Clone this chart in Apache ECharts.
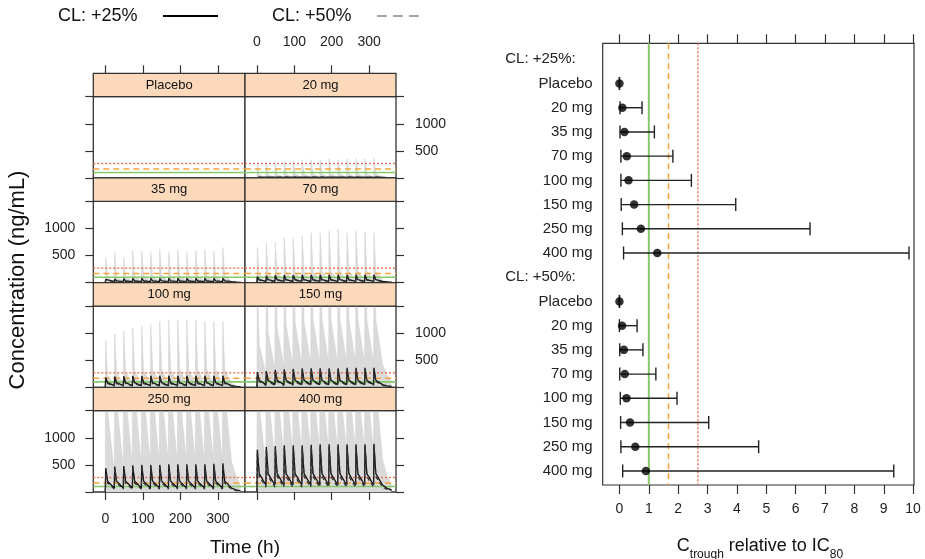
<!DOCTYPE html>
<html><head><meta charset="utf-8">
<script src="https://cdn.jsdelivr.net/npm/echarts@6/dist/echarts.min.js"></script>
<style>html,body{margin:0;padding:0;background:#fff}#c{width:925px;height:559px}</style>
</head><body><div id="c"></div>
<script>
// ---------------- DATA ----------------
const panelNames = ['Placebo','20 mg','35 mg','70 mg','100 mg','150 mg','250 mg','400 mg'];
const doseTimes = [0,24,48,72,96,120,144,168,192,216,240,264,288,312]; // h
const sampleOffsets = [1, 6, 24];   // h after each dose: peak, mid, trough
const tailTimes = [348, 360];       // h, after last trough
const timeTicks = [0,100,200,300];
const concTicks = [0,500,1000,1500];
const concLabels = [500,1000];
const refLevels = [100, 167, 267];  // ng/mL (IC80 multiples)

// gray prediction band (upper edge), ng/mL, per panel, per dose
const bandPeak = [
  [],
  [250,280,300,310,320,330,340,340,350,340,350,360,350,360],
  [470,560,470,590,590,560,620,560,620,560,590,620,590,650],
  [650,740,740,830,830,860,920,920,950,990,920,950,940,920],
  [860,980,1040,1100,1130,1160,1220,1250,1250,1250,1250,1220,1220,1220],
  [1900,2300,2500,2600,2700,2700,2800,2800,2800,2800,2800,2800,2800,2800],
  [3200,3600,3800,3900,4000,4000,4000,4000,4000,4000,4000,4000,4000,4000],
  [4800,5400,5600,5800,5800,5800,5800,5800,5800,5800,5800,5800,5800,5800]
];
const bandMid = [
  [],
  [55,60,65,65,70,70,70,70,75,70,75,75,75,75],
  [100,115,110,125,125,120,130,120,130,120,125,130,125,135],
  [150,175,180,195,195,200,210,210,215,220,210,215,215,210],
  [230,270,290,305,315,320,335,340,340,340,340,335,335,335],
  [800,1000,1100,1150,1200,1200,1250,1250,1250,1250,1250,1250,1250,1250],
  [1500,1700,1800,1850,1850,1850,1850,1850,1850,1850,1850,1850,1850,1850],
  [1600,1800,1900,1950,1950,1950,1950,1950,1950,1950,1950,1950,1950,1950]
];
const bandTrough = [
  [],
  [12,15,15,16,16,16,16,16,16,16,16,16,16,14],
  [20,25,27,28,28,28,28,28,28,28,28,28,28,25],
  [30,38,42,44,45,45,45,45,45,45,45,45,45,40],
  [45,60,68,72,74,75,75,75,75,75,75,75,75,70],
  [250,330,370,400,420,430,440,440,440,440,440,440,440,420],
  [350,430,470,490,510,520,530,530,530,530,530,530,530,560],
  [450,600,680,720,740,760,760,760,760,760,760,760,760,600]
];
const bandTail = [[],[8,4],[14,7],[22,10],[35,15],[230,110],[300,120],[300,140]];

// median profiles, CL +25% (solid)
const medPeak25 = [
  [],
  [30,35,38,40,40,40,40,40,40,40,40,40,40,40],
  [60,70,75,78,80,80,80,80,80,80,80,80,80,80],
  [110,125,135,140,140,145,145,145,145,145,145,145,145,145],
  [180,200,205,210,210,215,215,215,215,215,215,215,215,215],
  [280,300,320,330,340,350,350,350,350,350,360,360,360,360],
  [440,470,480,490,500,500,500,510,510,510,510,510,520,530],
  [780,830,850,860,860,860,870,880,880,880,880,880,880,890]
];
const medMid25 = [0,16,32,55,85,130,200,340];
const medTrough25 = [0,10,17,25,31,50,73,129];
const medTail25 = [[],[5,3],[9,5],[13,8],[16,10],[26,15],[38,22],[68,40]];

// median profiles, CL +50% (dashed)
const medPeak50 = [
  [],
  [27,31,34,36,36,36,36,36,36,36,36,36,36,36],
  [55,63,68,70,72,72,72,72,72,72,72,72,72,72],
  [100,112,120,125,125,128,128,128,128,128,128,128,128,128],
  [165,182,188,192,192,195,195,195,195,195,195,195,195,195],
  [260,280,295,305,312,320,320,320,320,320,328,328,328,328],
  [420,445,455,462,470,470,470,478,478,478,478,478,486,495],
  [750,800,815,825,825,825,835,845,845,845,845,845,845,855]
];
const medMid50 = [0,13,26,45,70,108,165,285];
const medTrough50 = [0,9,15,18,24,36,54,90];
const medTail50 = [[],[4,2],[7,4],[9,5],[12,7],[18,10],[27,15],[45,25]];

// forest plot: Ctrough relative to IC80
const groupLabels = ['CL: +25%:','CL: +50%:'];
const doseLabels = ['Placebo','20 mg','35 mg','70 mg','100 mg','150 mg','250 mg','400 mg'];
const lo25  = [0,0.02,0.02,0.05,0.05,0.06,0.10,0.14];
const med25 = [0,0.10,0.17,0.25,0.31,0.50,0.73,1.29];
const hi25  = [0,0.77,1.19,1.82,2.45,3.96,6.49,9.86];
const lo50  = [0,0.00,0.01,0.01,0.03,0.04,0.05,0.11];
const med50 = [0,0.09,0.15,0.18,0.24,0.36,0.54,0.90];
const hi50  = [0,0.60,0.80,1.24,1.96,3.04,4.74,9.34];
const refRatios = [1, 1.67, 2.67];
const ratioTicks = [0,1,2,3,4,5,6,7,8,9,10];

// ---------------- LAYOUT / STYLE ----------------
const FONT = "'Liberation Sans', Arial, Helvetica, sans-serif";
const INK = '#222';
const FRAME = '#333';
const colX = [93.3, 245];
const colW = [151.7, 151];
const ROW0 = 73.3, ROWP = 104.67, STRIP = 23.4, PLOT = 81.27;
const X_MIN = -32, X_MAX = 372;
const refColors = ['#86c96b','#f5a43e','#ee6a48'];
const refTypes = ['solid',[6,4],[2,2]];
const refWidths = [1.6,1.5,1.3];
const plain = v => String(v);

function stripTop(r){ return ROW0 + r*ROWP; }
function plotTop(r){ return stripTop(r) + STRIP; }

function profile(peaks, mids, troughs, tail){
  const pts = [];
  if (!peaks.length) return pts;
  for (let i = 0; i < doseTimes.length; i++){
    const t = doseTimes[i];
    const pre = i === 0 ? 0 : (Array.isArray(troughs) ? troughs[i-1] : troughs);
    pts.push([t, pre]);
    pts.push([t + sampleOffsets[0], peaks[i]]);
    pts.push([t + sampleOffsets[1], Array.isArray(mids) ? mids[i] : mids]);
  }
  const last = doseTimes[doseTimes.length-1] + sampleOffsets[2];
  pts.push([last, Array.isArray(troughs) ? troughs[troughs.length-1] : troughs]);
  tailTimes.forEach((t,k)=>pts.push([t, tail[k]]));
  return pts;
}

const grids = [], xAxes = [], yAxes = [], series = [], graphics = [];

panelNames.forEach((name, p) => {
  const r = Math.floor(p/2), c = p % 2;
  grids.push({left: colX[c], top: plotTop(r), width: colW[c], height: PLOT,
    show: true, borderColor: FRAME, borderWidth: 1.3, backgroundColor: '#fff',
    containLabel: false, outerBoundsMode: 'none'});
  const showX = (r === 0 || r === 3);
  const xLab = (r === 0 && c === 1) || (r === 3 && c === 0);
  xAxes.push({gridIndex: p, type: 'value', min: X_MIN, max: X_MAX,
    position: r === 0 ? 'top' : 'bottom', offset: r === 0 ? STRIP : 0,
    axisLine: {show: false, onZero: false},
    axisTick: {show: showX, customValues: timeTicks, length: 8, lineStyle: {color: FRAME, width: 1.2}},
    axisLabel: {show: xLab, customValues: timeTicks, margin: r === 0 ? 24 : 20, formatter: plain,
      fontSize: 14, fontFamily: FONT, color: INK},
    splitLine: {show: false}});
  const yLab = (c === 0 && (r === 1 || r === 3)) || (c === 1 && (r === 0 || r === 2));
  yAxes.push({gridIndex: p, type: 'value', min: 0, max: 1500,
    position: c === 0 ? 'left' : 'right',
    axisLine: {show: false, onZero: false},
    axisTick: {show: true, customValues: concTicks, length: 8, lineStyle: {color: FRAME, width: 1.2}},
    axisLabel: {show: yLab, customValues: concLabels, margin: c === 0 ? 18 : 19, formatter: plain,
      fontSize: 14, fontFamily: FONT, color: INK},
    splitLine: {show: false}});

  // band
  series.push({type: 'line', xAxisIndex: p, yAxisIndex: p, silent: true, symbol: 'none', z: 1,
    data: profile(bandPeak[p], bandMid[p], bandTrough[p], bandTail[p]),
    lineStyle: {width: 0.6, color: '#d4d4d4'},
    areaStyle: {color: '#dadada', opacity: 1, origin: 'start'}});
  // reference lines
  refLevels.forEach((v, k) => {
    series.push({type: 'line', xAxisIndex: p, yAxisIndex: p, silent: true, symbol: 'none', z: 2,
      data: [[X_MIN, v], [X_MAX, v]],
      lineStyle: {color: refColors[k], type: refTypes[k], width: refWidths[k]}});
  });
  // medians
  series.push({type: 'line', xAxisIndex: p, yAxisIndex: p, silent: true, symbol: 'none', z: 3,
    data: profile(medPeak25[p], medMid25[p], medTrough25[p], medTail25[p]),
    lineStyle: {color: '#111', width: 1.3}});
  series.push({type: 'line', xAxisIndex: p, yAxisIndex: p, silent: true, symbol: 'none', z: 4,
    data: profile(medPeak50[p], medMid50[p], medTrough50[p], medTail50[p]),
    lineStyle: {color: '#333', width: 1.3, type: [4,3]}});

  // strip
  graphics.push({type: 'rect', z: 10, shape: {x: colX[c], y: stripTop(r), width: colW[c], height: STRIP},
    style: {fill: '#fcd9bb', stroke: FRAME, lineWidth: 1.3}});
  graphics.push({type: 'text', z: 11, x: colX[c] + colW[c]/2, y: stripTop(r) + STRIP/2,
    style: {text: name, font: '13px ' + FONT, fill: '#111',
      align: 'center', verticalAlign: 'middle', textAlign: 'center', textVerticalAlign: 'middle'}});
});

// forest plot
const FG = panelNames.length; // grid index 8
const FX0 = -0.57, FX1 = 10.03, FY0 = -0.66, FY1 = 17.58;
grids.push({left: 602.7, top: 43.3, width: 311.3, height: 441.7, show: true,
  borderColor: FRAME, borderWidth: 1.2, backgroundColor: '#fff', containLabel: false, outerBoundsMode: 'none'});
xAxes.push({gridIndex: FG, type: 'value', min: FX0, max: FX1, position: 'bottom',
  axisLine: {show: false, onZero: false},
  axisTick: {show: true, customValues: ratioTicks, length: 9, lineStyle: {color: FRAME, width: 1.2}},
  axisLabel: {customValues: ratioTicks, margin: 17, fontSize: 14, fontFamily: FONT, color: INK, formatter: plain},
  splitLine: {show: false}});
xAxes.push({gridIndex: FG, type: 'value', min: FX0, max: FX1, position: 'top',
  axisLine: {show: false, onZero: false},
  axisTick: {show: true, customValues: ratioTicks, length: 9, lineStyle: {color: FRAME, width: 1.2}},
  axisLabel: {show: false}, splitLine: {show: false}});
const rowLabels = [];
const rowIsHeader = [];
groupLabels.forEach(g => { rowLabels.push(g); rowIsHeader.push(true);
  doseLabels.forEach(d => { rowLabels.push(d); rowIsHeader.push(false); }); });
const rowIdx = rowLabels.map((_, i) => i);
yAxes.push({gridIndex: FG, type: 'value', min: FY0, max: FY1, inverse: true, position: 'left',
  axisLine: {show: false, onZero: false}, axisTick: {show: false}, splitLine: {show: false},
  axisLabel: {customValues: rowIdx, margin: 10, color: INK, fontFamily: FONT, fontSize: 15,
    formatter: v => { const i = Math.round(v); return rowIsHeader[i] ? '{h|' + rowLabels[i] + '}' : '{d|' + rowLabels[i] + '}'; },
    rich: {h: {fontSize: 15, fontFamily: FONT, color: INK, padding: [0, 17, 0, 0]},
           d: {fontSize: 15, fontFamily: FONT, color: INK}}}});

refRatios.forEach((v, k) => {
  series.push({type: 'line', xAxisIndex: FG, yAxisIndex: FG, silent: true, symbol: 'none', z: 2,
    data: [[v, FY0], [v, FY1]],
    lineStyle: {color: refColors[k], type: refTypes[k], width: k === 0 ? 2 : refWidths[k]}});
});
const barData = [], ptData = [];
[[lo25, med25, hi25], [lo50, med50, hi50]].forEach((g, gi) => {
  doseLabels.forEach((d, di) => {
    const row = gi * (doseLabels.length + 1) + 1 + di;
    barData.push([g[0][di], g[2][di], row]);
    ptData.push([g[1][di], row]);
  });
});
series.push({type: 'custom', xAxisIndex: FG, yAxisIndex: FG, silent: true, z: 3,
  encode: {x: [0, 1], y: 2}, data: barData,
  renderItem: (params, api) => {
    const a = api.coord([api.value(0), api.value(2)]);
    const b = api.coord([api.value(1), api.value(2)]);
    const h = 6.5, st = {stroke: '#222', lineWidth: 1.4};
    return {type: 'group', children: [
      {type: 'line', shape: {x1: a[0], y1: a[1], x2: b[0], y2: b[1]}, style: st},
      {type: 'line', shape: {x1: a[0], y1: a[1]-h, x2: a[0], y2: a[1]+h}, style: st},
      {type: 'line', shape: {x1: b[0], y1: b[1]-h, x2: b[0], y2: b[1]+h}, style: st}]};
  }});
series.push({type: 'scatter', xAxisIndex: FG, yAxisIndex: FG, silent: true, z: 4,
  symbol: 'circle', symbolSize: 8.5, itemStyle: {color: '#000'}, data: ptData});

// titles & legend
graphics.push({type: 'text', x: 18, y: 280, rotation: Math.PI/2,
  style: {text: 'Concentration (ng/mL)', font: '22px ' + FONT, fill: '#111',
    align: 'center', verticalAlign: 'middle', textAlign: 'center', textVerticalAlign: 'middle'}});
graphics.push({type: 'text', x: 245, y: 548,
  style: {text: 'Time (h)', font: '19px ' + FONT, fill: '#111',
    align: 'center', verticalAlign: 'middle', textAlign: 'center', textVerticalAlign: 'middle'}});
graphics.push({type: 'text', x: 760, y: 544,
  style: {text: '{a|C}{s|trough}{a| relative to IC}{s|80}', fill: '#111',
    align: 'center', verticalAlign: 'middle', textAlign: 'center', textVerticalAlign: 'middle',
    rich: {a: {fontSize: 18, fontFamily: FONT, fill: '#111', lineHeight: 22, verticalAlign: 'bottom'},
           s: {fontSize: 12, fontFamily: FONT, fill: '#111', lineHeight: 22, verticalAlign: 'bottom', padding: [0,0,-6,0]}}}});
graphics.push({type: 'text', x: 58, y: 16,
  style: {text: 'CL: +25%', font: '18px ' + FONT, fill: '#111',
    align: 'left', verticalAlign: 'middle', textAlign: 'left', textVerticalAlign: 'middle'}});
graphics.push({type: 'line', shape: {x1: 163, y1: 16, x2: 218, y2: 16}, style: {stroke: '#000', lineWidth: 2}});
graphics.push({type: 'text', x: 272, y: 16,
  style: {text: 'CL: +50%', font: '18px ' + FONT, fill: '#111',
    align: 'left', verticalAlign: 'middle', textAlign: 'left', textVerticalAlign: 'middle'}});
graphics.push({type: 'line', shape: {x1: 377, y1: 16, x2: 425, y2: 16},
  style: {stroke: '#a8a8a8', lineWidth: 2, lineDash: [10, 6]}});

const chart = echarts.init(document.getElementById('c'), null, {renderer: 'canvas'});
chart.setOption({animation: false, backgroundColor: '#fff',
  grid: grids, xAxis: xAxes, yAxis: yAxes, series: series, graphic: {elements: graphics}});
</script></body></html>
